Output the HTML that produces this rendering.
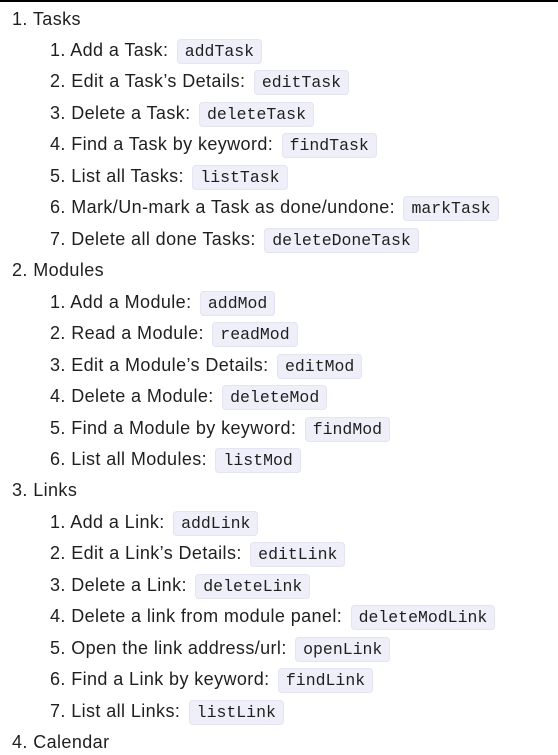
<!DOCTYPE html>
<html><head><style>
html,body{margin:0;padding:0;background:#fff;width:558px;height:755px;overflow:hidden}
body{border-top:2px solid #000;box-sizing:border-box;position:relative;font-family:"Liberation Sans",sans-serif;font-size:18px;color:#1f1f1f}
.l{position:absolute;height:24px;line-height:24px;white-space:nowrap;letter-spacing:0.4px}
.t{left:12px}.s{left:50px}
code{font-family:"Liberation Mono",monospace;font-size:16.5px;letter-spacing:0;background:#efeffa;border:1px solid #e4e4f2;border-radius:4px;padding:2px 7px;margin-left:3px}
</style></head><body>
<div class="l t" style="top:5px">1. Tasks</div>
<div class="l s" style="top:36px">1. Add a Task: <code>addTask</code></div>
<div class="l s" style="top:67px">2. Edit a Task’s Details: <code>editTask</code></div>
<div class="l s" style="top:99px">3. Delete a Task: <code>deleteTask</code></div>
<div class="l s" style="top:130px">4. Find a Task by keyword: <code>findTask</code></div>
<div class="l s" style="top:162px">5. List all Tasks: <code>listTask</code></div>
<div class="l s" style="top:193px">6. Mark/Un-mark a Task as done/undone: <code>markTask</code></div>
<div class="l s" style="top:225px">7. Delete all done Tasks: <code>deleteDoneTask</code></div>
<div class="l t" style="top:256px">2. Modules</div>
<div class="l s" style="top:288px">1. Add a Module: <code>addMod</code></div>
<div class="l s" style="top:319px">2. Read a Module: <code>readMod</code></div>
<div class="l s" style="top:351px">3. Edit a Module’s Details: <code>editMod</code></div>
<div class="l s" style="top:382px">4. Delete a Module: <code>deleteMod</code></div>
<div class="l s" style="top:414px">5. Find a Module by keyword: <code>findMod</code></div>
<div class="l s" style="top:445px">6. List all Modules: <code>listMod</code></div>
<div class="l t" style="top:476px">3. Links</div>
<div class="l s" style="top:508px">1. Add a Link: <code>addLink</code></div>
<div class="l s" style="top:539px">2. Edit a Link’s Details: <code>editLink</code></div>
<div class="l s" style="top:571px">3. Delete a Link: <code>deleteLink</code></div>
<div class="l s" style="top:602px">4. Delete a link from module panel: <code>deleteModLink</code></div>
<div class="l s" style="top:634px">5. Open the link address/url: <code>openLink</code></div>
<div class="l s" style="top:665px">6. Find a Link by keyword: <code>findLink</code></div>
<div class="l s" style="top:697px">7. List all Links: <code>listLink</code></div>
<div class="l t" style="top:728px">4. Calendar</div>
</body></html>
